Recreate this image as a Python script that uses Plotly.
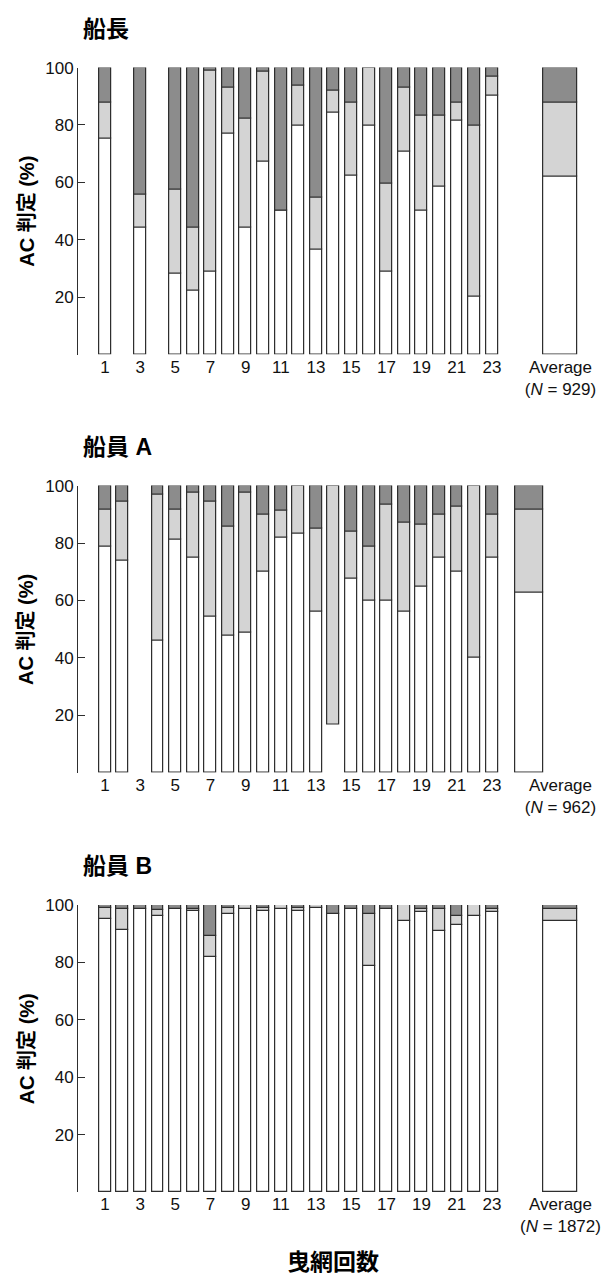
import plotly.graph_objects as go

# Haul numbers (1-23) plus the averaged bar
hauls = list(range(1, 24))

# Percentage of each AC judgement per haul: white = lowest class, light = middle, dark = highest
captain_white = [75.2, None, 44.2, None, 28.3, 22.3, 28.9, 77.1, 44.2, 67.2, 50.3, 79.9,
                 36.6, 84.4, 62.4, 79.9, 29.0, 70.6, 50.3, 58.5, 81.7, 20.3, 90.2]
captain_light = [12.6, None, 11.6, None, 29.1, 21.9, 70.1, 16.0, 37.9, 31.5, 0.0, 13.9,
                 18.1, 7.5, 25.4, 20.1, 30.5, 22.5, 32.9, 24.7, 6.1, 59.6, 6.7]
captain_dark = [12.2, None, 44.2, None, 42.6, 55.8, 1.0, 6.9, 17.9, 1.3, 49.7, 6.2,
                45.3, 8.1, 12.2, 0.0, 40.5, 6.9, 16.8, 16.8, 12.2, 20.1, 3.1]
captain_avg = [61.9, 25.9, 12.2]
captain_n = 929

crew_a_white = [78.9, 73.8, None, 46.1, 81.1, 74.9, 54.4, 47.7, 48.8, 69.9, 81.8, 83.4,
                56.2, 16.7, 67.7, 59.9, 59.9, 56.2, 64.9, 74.9, 69.9, 40.0, 74.9]
crew_a_light = [12.9, 20.8, None, 50.7, 10.7, 22.5, 40.2, 37.9, 48.7, 20.1, 9.6, 16.6,
                28.9, 83.3, 16.2, 19.0, 33.4, 30.9, 21.6, 15.1, 22.8, 60.0, 15.1]
crew_a_dark = [8.2, 5.4, None, 3.2, 8.2, 2.6, 5.4, 14.4, 2.5, 10.0, 8.6, 0.0,
               14.9, 0.0, 16.1, 21.1, 6.7, 12.9, 13.5, 10.0, 7.3, 0.0, 10.0]
crew_a_avg = [62.8, 29.0, 8.2]
crew_a_n = 962
# haul whose lowest segment is drawn without an outline
crew_a_unoutlined = [14]

crew_b_white = [95.3, 91.4, 98.7, 96.3, 98.7, 97.9, 81.9, 96.9, 98.7, 98.0, 98.7, 97.9,
                99.0, 96.9, 98.7, 78.6, 98.7, 94.6, 97.6, 90.8, 93.2, 96.3, 97.6]
crew_b_light = [3.8, 7.3, 0.0, 1.9, 0.0, 0.8, 7.4, 2.0, 1.3, 0.9, 1.3, 1.0,
                1.0, 0.0, 0.0, 18.3, 0.0, 5.4, 1.1, 7.9, 3.1, 3.7, 1.1]
crew_b_dark = [0.9, 1.3, 1.3, 1.8, 1.3, 1.3, 10.7, 1.1, 0.0, 1.1, 0.0, 1.1,
               0.0, 3.1, 1.3, 3.1, 1.3, 0.0, 1.3, 1.3, 3.7, 0.0, 1.3]
crew_b_avg = [94.6, 4.1, 1.3]
crew_b_n = 1872

panel_titles = ["船長", "船員 A", "船員 B"]
y_title = "AC 判定 (%)"
x_title = "曳網回数"
y_ticks = [0, 20, 40, 60, 80, 100]
y_ticktext = ["", "20", "40", "60", "80", "100"]
x_ticks = list(range(1, 24, 2))

# ---- styling / layout ----
W, H = 611, 1276
FILL = ["#ffffff", "#d4d4d4", "#8c8c8c"]
EDGE = "#2e2e2e"
FONT = "Liberation Sans, Arial, Noto Sans CJK JP, sans-serif"
CJK_FONT = "Liberation Sans, Arial, Noto Sans CJK JP, sans-serif"
BAR_W = 0.68
X_RANGE = [-0.52, 28.81]
X_DOMAIN = [79 / W, 600 / W]
AVG_LABEL_X = 26.9

# pixel rows (top, bottom) of each panel's 0-100 axis
panel_px = [(59, 348), (480, 769.3), (902.3, 1191.7)]
# average bar position and width for each panel
avg_geom = [(26.9, 1.93), (25.1, 1.58), (26.9, 1.93)]

panels = [
    (captain_white, captain_light, captain_dark, captain_avg, captain_n, []),
    (crew_a_white, crew_a_light, crew_a_dark, crew_a_avg, crew_a_n, crew_a_unoutlined),
    (crew_b_white, crew_b_light, crew_b_dark, crew_b_avg, crew_b_n, []),
]

fig = go.Figure()
layout = {}
annotations = []

for i, (wh, li, dk, avg, n, unoutlined) in enumerate(panels):
    ax = "" if i == 0 else str(i + 1)
    avg_x, avg_w = avg_geom[i]
    xs = hauls + [avg_x]
    widths = [BAR_W] * len(hauls) + [avg_w]
    series = [wh + [avg[0]], li + [avg[1]], dk + [avg[2]]]
    base = [0.0] * len(xs)
    for k, vals in enumerate(series):
        edge_cols = [EDGE] * len(xs)
        if k == 0:
            for h in unoutlined:
                edge_cols[hauls.index(h)] = "rgba(0,0,0,0)"
        fig.add_trace(go.Bar(
            x=xs, y=vals, base=list(base), width=widths,
            marker=dict(color=FILL[k], line=dict(color=edge_cols, width=1.2)),
            xaxis="x" + ax, yaxis="y" + ax, showlegend=False, hoverinfo="skip",
        ))
        base = [b + (v if v is not None else 0) for b, v in zip(base, vals)]

    top_px, bot_px = panel_px[i]
    layout["xaxis" + ax] = dict(
        domain=X_DOMAIN, range=X_RANGE, anchor="y" + ax,
        showline=False, showgrid=False, zeroline=False, ticks="",
        tickvals=x_ticks + [AVG_LABEL_X],
        ticktext=[str(t) for t in x_ticks] + [f"Average<br>(<i>N</i> = {n})"],
        tickfont=dict(family=FONT, size=17, color="#111111"),
        ticklabeloverflow="allow", fixedrange=True,
    )
    layout["yaxis" + ax] = dict(
        domain=[(H - bot_px) / H, (H - top_px) / H], range=[0, 100], anchor="x" + ax,
        showline=True, linecolor=EDGE, linewidth=1.2,
        ticks="inside", ticklen=7, tickwidth=1.2, tickcolor=EDGE,
        tickvals=y_ticks, ticktext=y_ticktext,
        tickfont=dict(family=FONT, size=17, color="#111111"),
        showgrid=False, zeroline=False, fixedrange=True,
    )
    # panel title
    annotations.append(dict(
        text=f"<b>{panel_titles[i]}</b>", xref="paper", yref="paper",
        x=82 / W, y=(H - (top_px - 39)) / H, xanchor="left", yanchor="middle",
        showarrow=False, font=dict(family=CJK_FONT, size=23, color="#000000"),
    ))
    # y-axis title
    annotations.append(dict(
        text=f"<b>{y_title}</b>", xref="paper", yref="paper",
        x=27 / W, y=(H - (top_px + bot_px) / 2) / H, xanchor="center", yanchor="middle",
        textangle=-90, showarrow=False,
        font=dict(family=CJK_FONT, size=20, color="#000000"),
    ))

annotations.append(dict(
    text=f"<b>{x_title}</b>", xref="paper", yref="paper",
    x=336 / W, y=(H - 1262) / H, xanchor="center", yanchor="middle",
    showarrow=False, font=dict(family=CJK_FONT, size=23, color="#000000"),
))

fig.update_layout(
    width=W, height=H, margin=dict(l=0, r=0, t=0, b=0),
    paper_bgcolor="white", plot_bgcolor="white",
    barmode="overlay", bargap=0, annotations=annotations, **layout,
)

fig.write_html("out.html", config={"displayModeBar": False})
